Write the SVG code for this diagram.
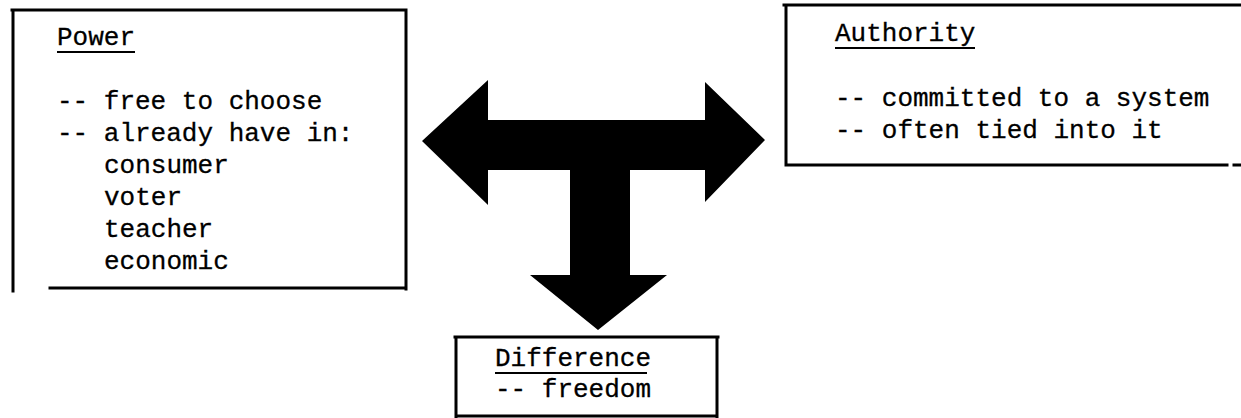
<svg xmlns="http://www.w3.org/2000/svg" width="1241" height="418" viewBox="0 0 1241 418">
<style>
  .t { font-family: "Liberation Mono", "Courier New", monospace; font-size: 26px; fill: #000; stroke: #000; stroke-width: 0.3; }
  .b { stroke: #000; stroke-width: 3; fill: none; stroke-linecap: square; }
  .u { stroke: #000; stroke-width: 2; }
</style>
<rect x="0" y="0" width="1241" height="418" fill="#fff"/>
<g id="power">
  <path class="b" d="M13,10 L13,291 M12,10 L406,10 L406,289 M50,288 L406,288"/>
  <text class="t" x="57" y="45">Power</text>
  <line class="u" x1="57" y1="52" x2="135" y2="52"/>
  <text class="t" x="57" y="109">-- free to choose</text>
  <text class="t" x="57" y="141">-- already have in:</text>
  <text class="t" x="104" y="173">consumer</text>
  <text class="t" x="104" y="205">voter</text>
  <text class="t" x="104" y="237">teacher</text>
  <text class="t" x="104" y="269">economic</text>
</g>
<g id="authority">
  <path class="b" d="M784,5 L1241,5 M786,5 L786,165 L1227,165 M1234,165 L1240,165"/>
  <text class="t" x="835" y="41">Authority</text>
  <line class="u" x1="835" y1="48" x2="975" y2="48"/>
  <text class="t" x="835" y="106">-- committed to a system</text>
  <text class="t" x="835" y="138">-- often tied into it</text>
</g>
<g id="difference">
  <path class="b" d="M455,337 L718,337 M456,337 L456,418 M717,337 L717,418 M456,416 L717,416"/>
  <text class="t" x="495" y="366">Difference</text>
  <line class="u" x1="495" y1="373" x2="647" y2="373"/>
  <text class="t" x="495" y="397">-- freedom</text>
</g>
<g id="connectors">
  <path fill="#000" d="M422,141 L488,80 L488,120 L705,120 L705,82 L765,140 L705,202 L705,170 L630,170 L630,275 L667,275 L598,330 L530,275 L570,275 L570,170 L488,170 L488,205 Z"/>
</g>
</svg>
